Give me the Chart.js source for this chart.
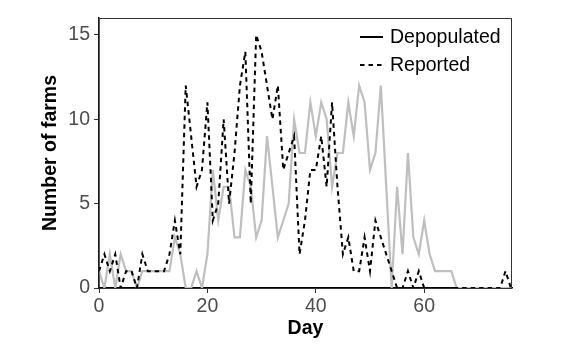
<!DOCTYPE html>
<html>
<head>
<meta charset="utf-8">
<script src="https://cdn.jsdelivr.net/npm/chart.js@4.4.1/dist/chart.umd.min.js"></script>
<style>
  html, body { margin: 0; padding: 0; background: #fff; }
  #wrap { position: relative; width: 586px; height: 361px; }
</style>
</head>
<body>
<div id="wrap"><canvas id="chart"></canvas></div>
<script>
const days = [
  0, 1, 2, 3, 4, 5, 6, 7, 8, 9, 10, 11, 12, 13, 14, 15, 16, 17, 18, 19,
  20, 21, 22, 23, 24, 25, 26, 27, 28, 29, 30, 31, 32, 33, 34, 35, 36, 37, 38, 39,
  40, 41, 42, 43, 44, 45, 46, 47, 48, 49, 50, 51, 52, 53, 54, 55, 56, 57, 58, 59,
  60, 61, 62, 63, 64, 65, 66, 67, 68, 69, 70, 71, 72, 73, 74, 75, 76,
];
const depopulated = [
  1, 0, 2, 0, 2, 1, 1, 0, 1, 1, 1, 1, 1, 1, 3, 2, 0, 0, 1, 0,
  2, 7, 4, 6, 6, 3, 3, 7, 6, 3, 4, 9, 6, 3, 4, 5, 10, 8, 8, 11,
  9, 11, 10, 6, 8, 8, 11, 9, 12, 11, 7, 8, 12, 6, 0, 6, 2, 8, 3, 2,
  4, 2, 1, 1, 1, 1, 0, 0, 0, 0, 0, 0, 0, 0, 0, 0, 0,
];
const reported = [
  1, 2, 1, 2, 0, 1, 1, 0, 2, 1, 1, 1, 1, 2, 4, 2, 12, 9, 6, 7,
  11, 4, 5, 10, 5, 8, 12, 14, 5, 15, 14, 12, 10, 12, 7, 8, 9, 2, 4, 7,
  7, 9, 6, 11, 6, 2, 3, 1, 1, 3, 1, 4, 3, 2, 1, 0, 0, 1, 0, 1,
  0, 0, 0, 0, 0, 0, 0, 0, 0, 0, 0, 0, 0, 0, 0, 1, 0,
];
const xTicks = [0, 20, 40, 60];
const yTicks = [0, 5, 10, 15];

const FONT = "'Liberation Sans', Arial, sans-serif";
const DASH = [4.5, 4];

const panelBox = {
  id: "panelBox",
  afterDraw(chart) {
    const { ctx, chartArea } = chart;
    ctx.save();
    ctx.strokeStyle = "#333";
    ctx.lineWidth = 1;
    ctx.strokeRect(chartArea.left, chartArea.top + 0.5, chartArea.right - chartArea.left - 0.5, chartArea.bottom - chartArea.top);
    ctx.restore();
  },
};

// legend sits inside the panel, top right, keys drawn in black
const insideLegend = {
  id: "insideLegend",
  afterDraw(chart) {
    const { ctx, chartArea } = chart;
    const textX = chartArea.right - 122;
    ctx.save();
    ctx.font = "19.5px " + FONT;
    ctx.textBaseline = "middle";
    ctx.fillStyle = "#000";
    chart.data.datasets.forEach((ds, i) => {
      const y = chartArea.top + 19 + i * 28;
      ctx.strokeStyle = "#000";
      ctx.lineWidth = 2;
      ctx.setLineDash(ds.borderDash || []);
      ctx.beginPath();
      ctx.moveTo(textX - 30, y);
      ctx.lineTo(textX - 7, y);
      ctx.stroke();
      ctx.setLineDash([]);
      ctx.fillText(ds.label, textX, y + 1);
    });
    ctx.restore();
  },
};

new Chart(document.getElementById("chart"), {
  type: "line",
  data: {
    datasets: [
      {
        label: "Depopulated",
        data: days.map((d, i) => ({ x: d, y: depopulated[i] })),
        borderColor: "#bfbfbf",
        borderWidth: 2.2,
        pointRadius: 0,
        order: 1,
      },
      {
        label: "Reported",
        data: days.map((d, i) => ({ x: d, y: reported[i] })),
        borderColor: "#000",
        borderWidth: 2,
        borderDash: DASH,
        borderCapStyle: "butt",
        pointRadius: 0,
        order: 0,
      },
    ],
  },
  options: {
    responsive: true,
    maintainAspectRatio: false,
    animation: false,
    layout: { padding: { top: 18, right: 74, bottom: 0, left: 0 } },
    plugins: { legend: { display: false }, tooltip: { enabled: false } },
    scales: {
      x: {
        type: "linear",
        min: 0,
        max: 76.2,
        afterBuildTicks: (s) => { s.ticks = xTicks.map((v) => ({ value: v })); },
        afterFit: (s) => { s.height = 73; },
        ticks: { color: "#4d4d4d", font: { family: FONT, size: 19.5 }, padding: 2, maxRotation: 0 },
        grid: { drawOnChartArea: false, drawTicks: true, tickLength: 5, color: "#333", tickWidth: 1 },
        border: { display: true, color: "#000", width: 1.5 },
        title: { display: true, text: "Day", color: "#000", font: { family: FONT, size: 19.5, weight: "bold" }, padding: { top: 0, bottom: 21 } },
      },
      y: {
        min: 0,
        max: 16,
        afterBuildTicks: (s) => { s.ticks = yTicks.map((v) => ({ value: v })); },
        afterFit: (s) => { s.width = 99; },
        ticks: { color: "#4d4d4d", font: { family: FONT, size: 19.5 }, padding: 4 },
        grid: { drawOnChartArea: false, drawTicks: true, tickLength: 5, color: "#333", tickWidth: 1 },
        border: { display: true, color: "#000", width: 1.5 },
        title: { display: true, text: "Number of farms", color: "#000", font: { family: FONT, size: 19.5, weight: "bold" }, padding: { top: 39, bottom: 0 } },
      },
    },
  },
  plugins: [panelBox, insideLegend],
});
</script>
</body>
</html>
